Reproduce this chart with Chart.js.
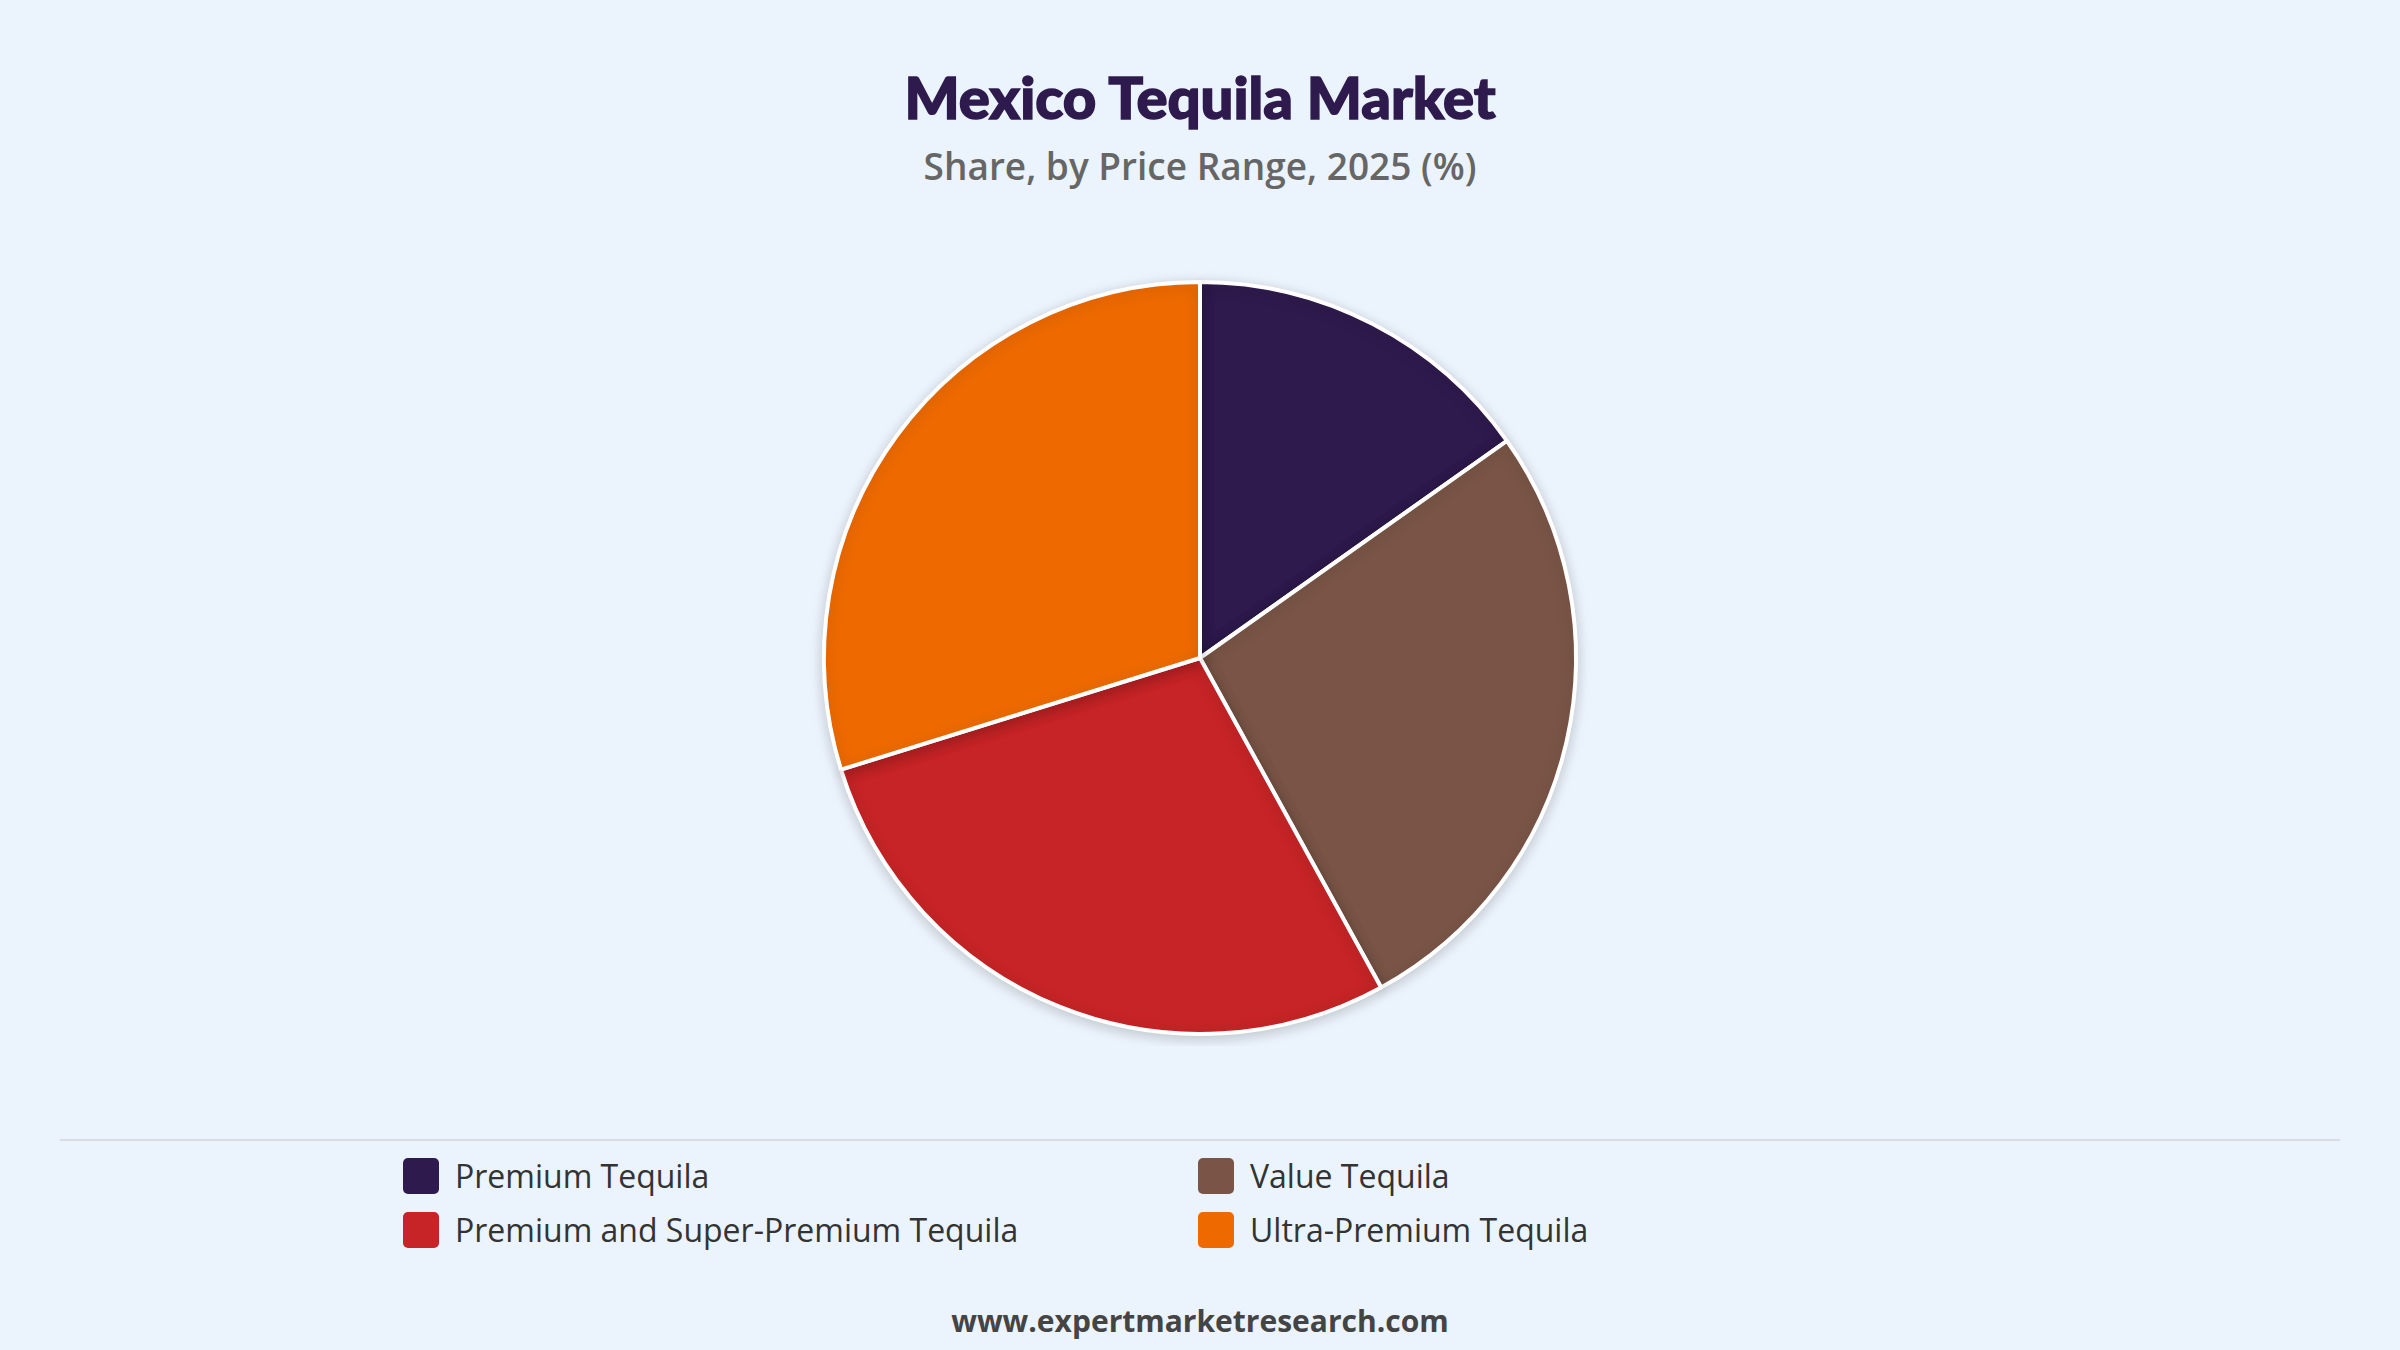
<!DOCTYPE html>
<html><head><meta charset="utf-8">
<script src="https://cdn.jsdelivr.net/npm/chart.js@4"></script>
<style>
html,body{margin:0;padding:0;background:#ebf3fc;width:2400px;height:1350px;overflow:hidden;font-family:"Open Sans","Noto Sans",sans-serif;}
#title{position:absolute;top:62px;width:2400px;text-align:center;font-family:Lato,Inter,sans-serif;font-weight:900;font-size:58px;color:#2e1a4d;-webkit-text-stroke:1.5px #2e1a4d;}
#sub{position:absolute;top:140px;width:2400px;text-align:center;font-size:37px;color:#666;font-weight:600;}
#wrap{position:absolute;left:0;top:270px;width:2400px;height:776px;}
#sep{position:absolute;left:60px;top:1139px;width:2280px;height:2px;background:#d8dde3;}
.leg{position:absolute;font-size:32px;color:#333;display:flex;align-items:center;}
.sw{width:36px;height:36px;border-radius:5px;margin-right:16px;}
#foot{position:absolute;top:1300px;width:2400px;text-align:center;font-size:30px;font-weight:700;color:#444;}
</style></head><body>
<div id="title">Mexico Tequila Market</div>
<div id="sub">Share, by Price Range, 2025 (%)</div>
<div id="wrap"><canvas id="c"></canvas></div>
<div id="sep"></div>
<div id="legend"></div>
<div id="foot">www.expertmarketresearch.com</div>
<script>
const categories=["Premium Tequila","Value Tequila","Premium and Super-Premium Tequila","Ultra-Premium Tequila"];
const shares=[15.2,26.8,28.2,29.8];
const colors=["#2e1a4d","#7a5547","#c62426","#ee6a00"];
const legPos=[[403,1154],[1198,1154],[403,1208],[1198,1208]];
const lg=document.getElementById('legend');
categories.forEach((c,i)=>{const d=document.createElement('div');d.className='leg';d.style.left=legPos[i][0]+'px';d.style.top=legPos[i][1]+'px';
d.innerHTML='<div class="sw" style="background:'+colors[i]+'"></div>'+c;lg.appendChild(d);});
const shadow={id:'sh',beforeDatasetsDraw(ch){const x=ch.ctx;x.save();x.shadowColor='rgba(0,0,0,0.18)';x.shadowBlur=14;x.shadowOffsetY=3;},afterDatasetsDraw(ch){ch.ctx.restore();}};
new Chart(document.getElementById('c'),{type:'pie',data:{labels:categories,datasets:[{data:shares,backgroundColor:colors,borderColor:'#fff',borderWidth:4}]},
options:{responsive:true,maintainAspectRatio:false,animation:false,layout:{padding:10},plugins:{legend:{display:false},tooltip:{enabled:false}}},plugins:[shadow]});
</script></body></html>
